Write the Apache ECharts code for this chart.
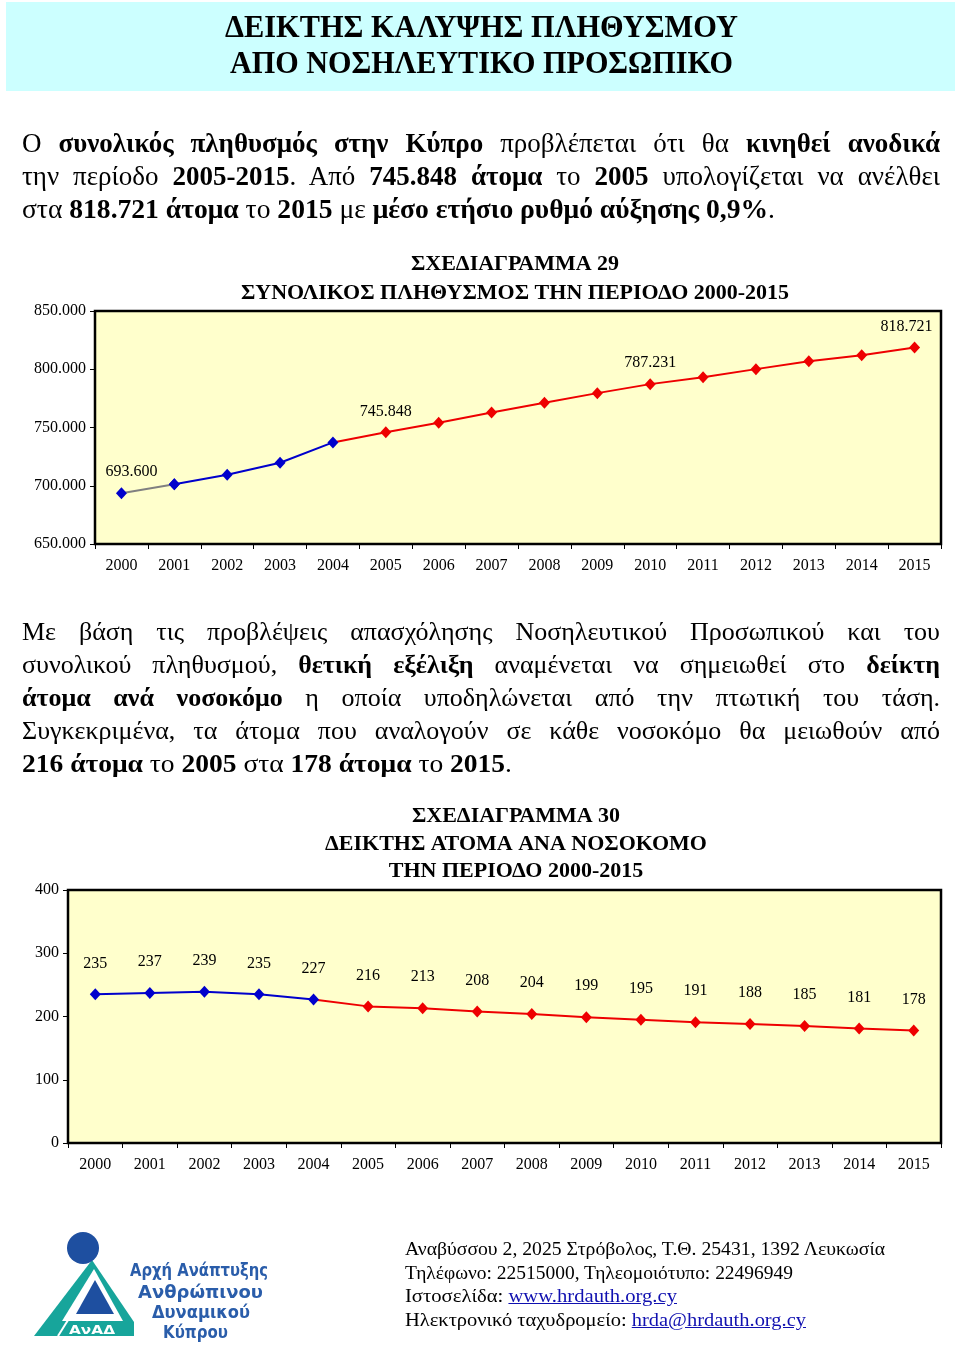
<!DOCTYPE html>
<html>
<head>
<meta charset="utf-8">
<script src="https://cdn.jsdelivr.net/npm/echarts@6/dist/echarts.min.js"></script>
<style>
html,body{margin:0;padding:0;background:#fff;}
#page{position:relative;width:960px;height:1362px;overflow:hidden;background:#fff;}
#chart{position:absolute;left:0;top:0;width:960px;height:1362px;}
.hdr{position:absolute;left:6px;top:2px;width:949px;height:89px;background:#CCFFFF;}
.ln{position:absolute;white-space:nowrap;line-height:1;font-family:"Liberation Serif","Times New Roman",serif;color:#000;}
.ln b{font-weight:bold;}
.ln a{color:#1010B0;text-decoration:underline;}
</style>
</head>
<body>
<div id="page">
  <div class="hdr"></div>
  <div id="chart"></div>

  <div class="ln fit" style="left:225px;top:11px;font-size:31px;font-weight:bold" data-w="513">ΔΕΙΚΤΗΣ ΚΑΛΥΨΗΣ ΠΛΗΘΥΣΜΟΥ</div>
  <div class="ln fit" style="left:230px;top:47px;font-size:31px;font-weight:bold" data-w="503">ΑΠΟ ΝΟΣΗΛΕΥΤΙΚΟ ΠΡΟΣΩΠΙΚΟ</div>

  <div class="ln fit" data-j="1" style="left:22px;top:130px;font-size:27px" data-w="918">Ο <b>συνολικός πληθυσμός στην Κύπρο</b> προβλέπεται ότι θα <b>κινηθεί ανοδικά</b></div>
  <div class="ln fit" data-j="1" style="left:22px;top:163px;font-size:27px" data-w="918">την περίοδο <b>2005-2015</b>. Από <b>745.848 άτομα</b> το <b>2005</b> υπολογίζεται να ανέλθει</div>
  <div class="ln fit" style="left:22px;top:196px;font-size:27px" data-w="753">στα <b>818.721 άτομα</b> το <b>2015</b> με <b>μέσο ετήσιο ρυθμό αύξησης 0,9%</b>.</div>

  <div class="ln fit" data-j="1" style="left:22px;top:619px;font-size:26px" data-w="918">Με βάση τις προβλέψεις απασχόλησης Νοσηλευτικού Προσωπικού και του</div>
  <div class="ln fit" data-j="1" style="left:22px;top:652px;font-size:26px" data-w="918">συνολικού πληθυσμού, <b>θετική εξέλιξη</b> αναμένεται να σημειωθεί στο <b>δείκτη</b></div>
  <div class="ln fit" data-j="1" style="left:22px;top:685px;font-size:26px" data-w="918"><b>άτομα ανά νοσοκόμο</b> η οποία υποδηλώνεται από την πτωτική του τάση.</div>
  <div class="ln fit" data-j="1" style="left:22px;top:718px;font-size:26px" data-w="918">Συγκεκριμένα, τα άτομα που αναλογούν σε κάθε νοσοκόμο θα μειωθούν από</div>
  <div class="ln fit" style="left:22px;top:751px;font-size:26px" data-w="490"><b>216 άτομα</b> το <b>2005</b> στα <b>178 άτομα</b> το <b>2015</b>.</div>

  <svg style="position:absolute;left:20px;top:1210px" width="270" height="145" viewBox="0 0 270 145">
    <polygon points="14,126 72,50 114,112 114,126" fill="#17A59B"/>
    <polygon points="42,111 74,59 103,111" fill="#ffffff"/>
    <polygon points="56,104 75,70 94,104" fill="#1E4FA0"/>
    <line x1="38" y1="126" x2="72" y2="72" stroke="#ffffff" stroke-width="2"/>
    <circle cx="63" cy="38" r="16" fill="#1E4FA0"/>
    <text x="72" y="124" text-anchor="middle" font-family="DejaVu Sans, sans-serif" font-weight="bold" font-size="12" fill="#ffffff" textLength="46" lengthAdjust="spacingAndGlyphs">ΑνΑΔ</text>
    <text x="110" y="66" font-family="DejaVu Sans, sans-serif" font-weight="bold" font-size="17" fill="#2A5DAA" textLength="138" lengthAdjust="spacingAndGlyphs">Αρχή Ανάπτυξης</text>
    <text x="118" y="88" font-family="DejaVu Sans, sans-serif" font-weight="bold" font-size="17" fill="#2A5DAA" textLength="125" lengthAdjust="spacingAndGlyphs">Ανθρώπινου</text>
    <text x="132" y="108" font-family="DejaVu Sans, sans-serif" font-weight="bold" font-size="17" fill="#2A5DAA" textLength="98" lengthAdjust="spacingAndGlyphs">Δυναμικού</text>
    <text x="143" y="128" font-family="DejaVu Sans, sans-serif" font-weight="bold" font-size="17" fill="#2A5DAA" textLength="65" lengthAdjust="spacingAndGlyphs">Κύπρου</text>
  </svg>

  <div class="ln fit" style="left:405px;top:1239px;font-size:19px" data-w="480">Αναβύσσου 2, 2025 Στρόβολος, Τ.Θ. 25431, 1392 Λευκωσία</div>
  <div class="ln fit" style="left:405px;top:1263px;font-size:19px" data-w="388">Τηλέφωνο: 22515000, Τηλεομοιότυπο: 22496949</div>
  <div class="ln fit" style="left:405px;top:1286px;font-size:19px" data-w="272">Ιστοσελίδα: <a>www.hrdauth.org.cy</a></div>
  <div class="ln fit" style="left:405px;top:1310px;font-size:19px" data-w="401">Ηλεκτρονικό ταχυδρομείο: <a>hrda@hrdauth.org.cy</a></div>
</div>

<script>
// ---------- DATA ----------
const years = ['2000','2001','2002','2003','2004','2005','2006','2007','2008','2009','2010','2011','2012','2013','2014','2015'];
const population = [693600, 701200, 709400, 719700, 737200, 745848, 754000, 762900, 771200, 779500, 787231, 793200, 800100, 806900, 812100, 818721];
const personsPerNurse = [235, 237, 239, 235, 227, 216, 213, 208, 204, 199, 195, 191, 188, 185, 181, 178];
const lastActualIndex = 4;           // 2004: last actual year, projections follow
const populationLabelYears = ['2000', '2005', '2010', '2015'];
const populationAxis = {min: 650000, max: 850000, step: 50000};
const nurseAxis = {min: 0, max: 400, step: 100};
const title29 = ['ΣΧΕΔΙΑΓΡΑΜΜΑ 29', 'ΣΥΝΟΛΙΚΟΣ ΠΛΗΘΥΣΜΟΣ ΤΗΝ ΠΕΡΙΟΔΟ 2000-2015'];
const title30 = ['ΣΧΕΔΙΑΓΡΑΜΜΑ 30', 'ΔΕΙΚΤΗΣ ΑΤΟΜΑ ΑΝΑ ΝΟΣΟΚΟΜΟ', 'ΤΗΝ ΠΕΡΙΟΔΟ 2000-2015'];

// ---------- text fitting ----------
function fitLines(){
  document.querySelectorAll('.fit').forEach(el=>{
    const w = +el.dataset.w;
    const nat = el.getBoundingClientRect().width;
    const spaces = (el.textContent.match(/ /g)||[]).length;
    if (el.dataset.j && nat < w && spaces > 0) {
      el.style.wordSpacing = ((w - nat) / spaces) + 'px';
    } else {
      el.style.transformOrigin = '0 0';
      el.style.transform = 'scaleX(' + (w / nat) + ')';
    }
  });
}
fitLines();

// ---------- CHART ----------
const SERIF = 'Liberation Serif';
const BLUE = '#0000CC', RED = '#EE0000', GRAY = '#808080';
const fmt = v => String(v).replace(/\B(?=(\d{3})+(?!\d))/g, '.');
function seg(arr, from, to){ return arr.map((v,i)=> (i>=from && i<=to) ? v : '-'); }

function xAxisCfg(gi){
  return {
    type:'category', gridIndex:gi, data:years, boundaryGap:true,
    axisLine:{show:true, lineStyle:{color:'#000', width:2}},
    axisTick:{show:true, alignWithLabel:false, length:5, lineStyle:{color:'#000', width:1}},
    axisLabel:{interval:0, margin:14, color:'#000', fontFamily:SERIF, fontSize:16},
    splitLine:{show:false}
  };
}
function yAxisCfg(gi, ax, f){
  return {
    type:'value', gridIndex:gi, min:ax.min, max:ax.max, interval:ax.step,
    axisLine:{show:true, lineStyle:{color:'#000', width:2}},
    axisTick:{show:true, length:5, lineStyle:{color:'#000', width:1}},
    axisLabel:{margin:9, color:'#000', fontFamily:SERIF, fontSize:16, formatter:f},
    splitLine:{show:false}
  };
}
const lbl = (dist) => ({show:true, position:'top', distance:dist, color:'#000', fontFamily:SERIF, fontSize:16});

// chart 29 series
const popGray = seg(population, 0, 1).map((v,i)=> i===0 ? {value:v, label:{offset:[10,0]}} : v);
const popBlue = seg(population, 1, lastActualIndex);
const popRed = seg(population, lastActualIndex, population.length-1).map((v,i)=>{
  if (i === lastActualIndex) return {value:v, symbol:'none'};
  if (i === population.length-1 && v !== '-') return {value:v, label:{offset:[-8,0]}};
  return v;
});
const popLabelFmt = p => populationLabelYears.includes(p.name) ? fmt(p.value) : '';

// chart 30 series
const nurseBlue = seg(personsPerNurse, 0, lastActualIndex);
const nurseRed = seg(personsPerNurse, lastActualIndex, personsPerNurse.length-1).map((v,i)=> i===lastActualIndex ? {value:v, symbol:'none', label:{show:false}} : v);

const chart = echarts.init(document.getElementById('chart'), null, {renderer:'canvas'});
chart.setOption({
  animation:false,
  backgroundColor:'transparent',
  title:[
    {text:title29.join('\n'), left:510, top:245, textAlign:'center',
     textStyle:{fontFamily:SERIF, fontWeight:'bold', fontSize:22, lineHeight:29, color:'#000'}},
    {text:title30.join('\n'), left:511, top:798, textAlign:'center',
     textStyle:{fontFamily:SERIF, fontWeight:'bold', fontSize:22, lineHeight:27.5, color:'#000'}}
  ],
  grid:[
    {left:95, top:311, width:846, height:233, show:true, backgroundColor:'#FFFFCC', borderColor:'#000', borderWidth:2.5, outerBoundsMode:'none'},
    {left:68, top:890, width:873, height:253, show:true, backgroundColor:'#FFFFCC', borderColor:'#000', borderWidth:2.5, outerBoundsMode:'none'}
  ],
  xAxis:[xAxisCfg(0), xAxisCfg(1)],
  yAxis:[yAxisCfg(0, populationAxis, v=>fmt(v)), yAxisCfg(1, nurseAxis, v=>String(v))],
  series:[
    {type:'line', xAxisIndex:0, yAxisIndex:0, data:popRed, z:3,
     symbol:'diamond', symbolSize:[11,12], lineStyle:{color:RED, width:2}, itemStyle:{color:RED},
     label:Object.assign(lbl(7), {formatter:popLabelFmt})},
    {type:'line', xAxisIndex:0, yAxisIndex:0, data:popGray, z:4,
     symbol:'diamond', symbolSize:[11,12], lineStyle:{color:GRAY, width:2}, itemStyle:{color:BLUE},
     label:Object.assign(lbl(7), {formatter:popLabelFmt})},
    {type:'line', xAxisIndex:0, yAxisIndex:0, data:popBlue, z:5,
     symbol:'diamond', symbolSize:[11,12], lineStyle:{color:BLUE, width:2}, itemStyle:{color:BLUE},
     label:{show:false}},
    {type:'line', xAxisIndex:1, yAxisIndex:1, data:nurseRed, z:3,
     symbol:'diamond', symbolSize:[11,12], lineStyle:{color:RED, width:2}, itemStyle:{color:RED},
     label:lbl(17)},
    {type:'line', xAxisIndex:1, yAxisIndex:1, data:nurseBlue, z:5,
     symbol:'diamond', symbolSize:[11,12], lineStyle:{color:BLUE, width:2}, itemStyle:{color:BLUE},
     label:lbl(17)}
  ]
});
</script>
</body>
</html>
